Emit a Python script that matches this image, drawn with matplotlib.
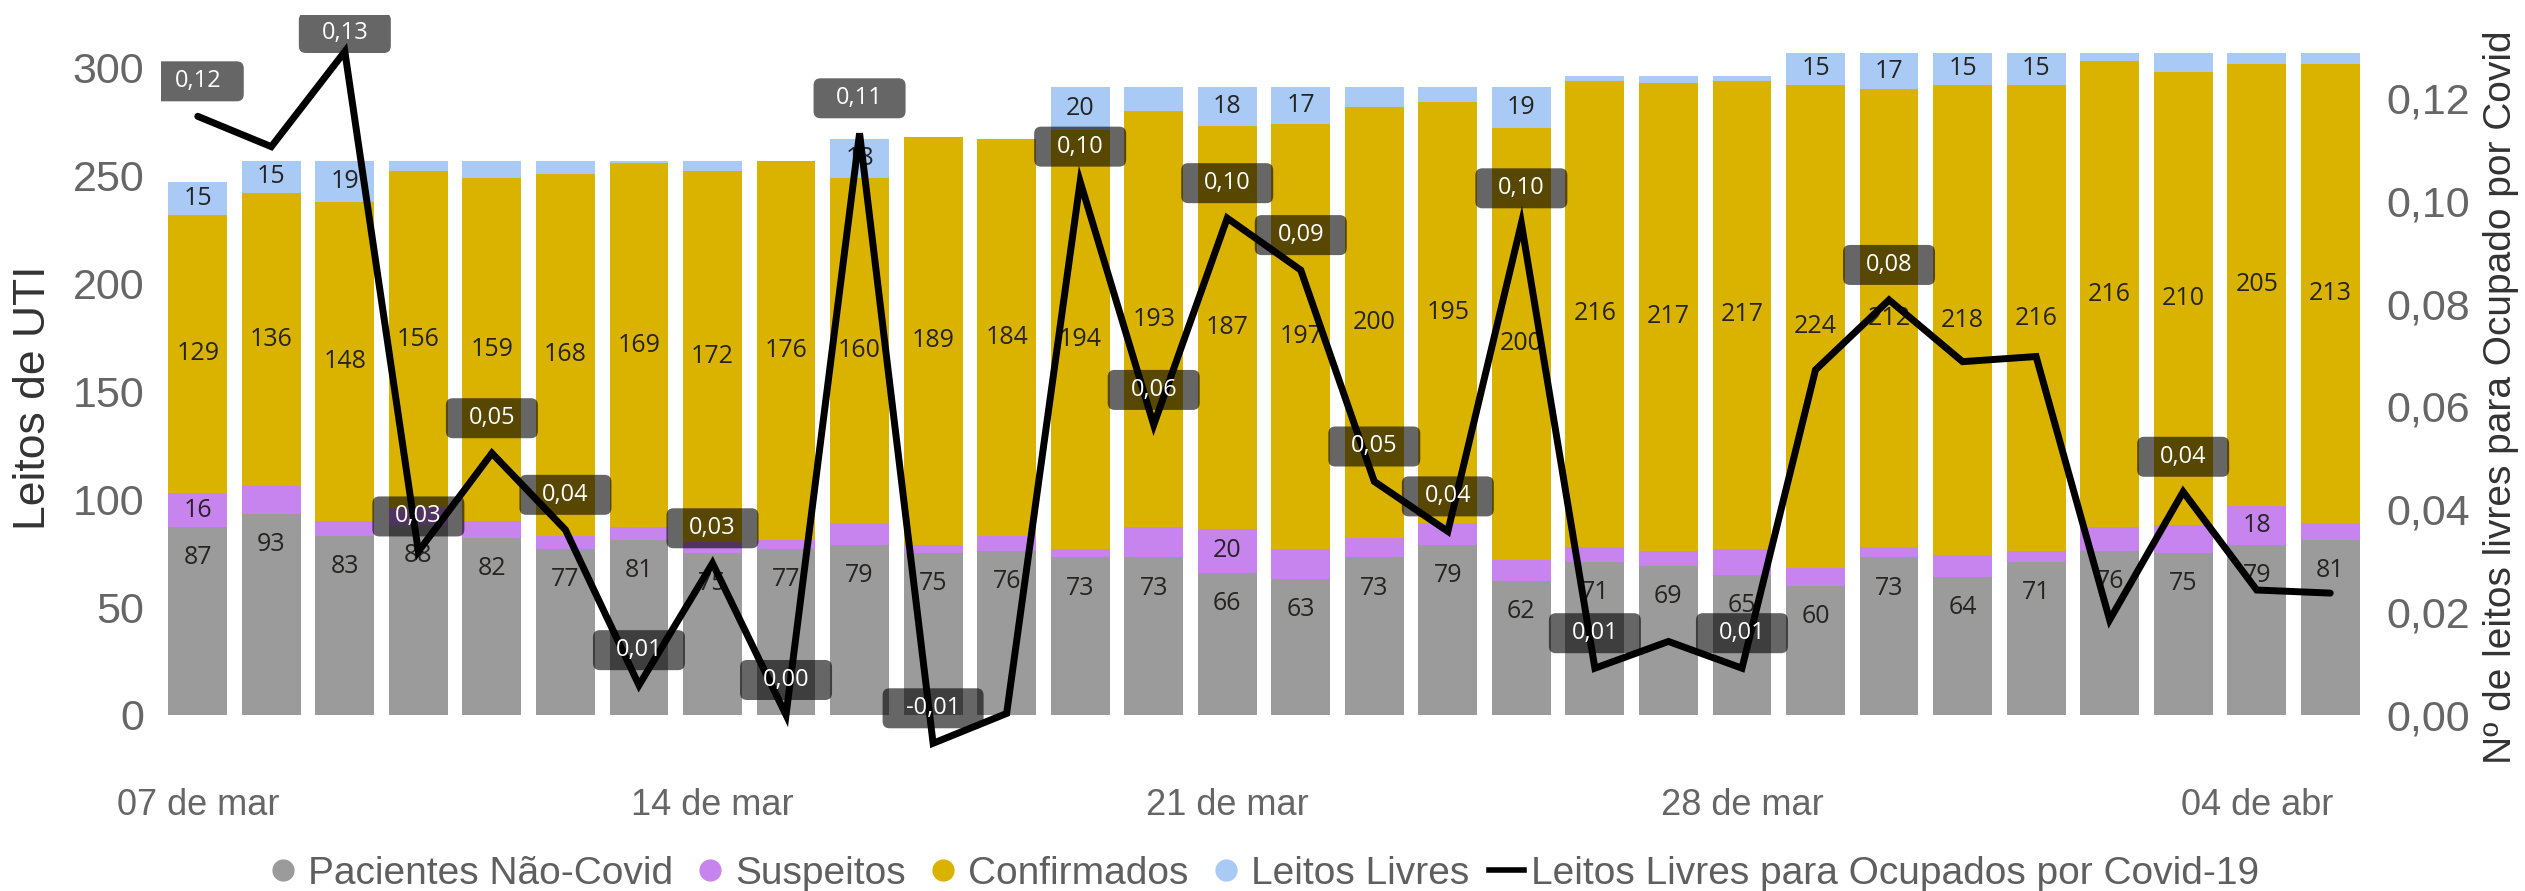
import matplotlib
matplotlib.use("Agg")
import matplotlib.pyplot as plt
import matplotlib.transforms as mtransforms
from matplotlib.patches import FancyBboxPatch
from matplotlib.lines import Line2D
import numpy as np

# dados (07 de mar a 05 de abr)
dias = ["07 de mar", "08 de mar", "09 de mar", "10 de mar", "11 de mar", "12 de mar",
        "13 de mar", "14 de mar", "15 de mar", "16 de mar", "17 de mar", "18 de mar",
        "19 de mar", "20 de mar", "21 de mar", "22 de mar", "23 de mar", "24 de mar",
        "25 de mar", "26 de mar", "27 de mar", "28 de mar", "29 de mar", "30 de mar",
        "31 de mar", "01 de abr", "02 de abr", "03 de abr", "04 de abr", "05 de abr"]
nao_covid = [87, 93, 83, 88, 82, 77, 81, 75, 77, 79, 75, 76, 73, 73, 66, 63, 73, 79,
             62, 71, 69, 65, 60, 73, 64, 71, 76, 75, 79, 81]
suspeitos = [16, 13, 7, 8, 8, 6, 6, 5, 4, 10, 4, 7, 4, 14, 20, 14, 9, 10,
             10, 7, 7, 12, 8, 5, 10, 5, 11, 13, 18, 8]
confirmados = [129, 136, 148, 156, 159, 168, 169, 172, 176, 160, 189, 184, 194, 193,
               187, 197, 200, 195, 200, 216, 217, 217, 224, 212, 218, 216, 216, 210,
               205, 213]
livres = [15, 15, 19, 5, 8, 6, 1, 5, 0, 18, 0, 0, 20, 11, 18, 17, 9, 7, 19, 2, 3, 2,
          15, 17, 15, 15, 4, 9, 5, 5]
razao = [0.1164, 0.1105, 0.1290, 0.0318, 0.0509, 0.0360, 0.0058, 0.0295, 0.0000,
         0.1131, -0.0055, 0.0003, 0.1037, 0.0564, 0.0966, 0.0865, 0.0454, 0.0357,
         0.0956, 0.0091, 0.0143, 0.0091, 0.0671, 0.0807, 0.0687, 0.0697, 0.0185,
         0.0434, 0.0243, 0.0237]
razao_rotulo = [1, 0, 1, 1, 1, 1, 1, 1, 1, 1, 1, 0, 1, 1, 1, 1, 1, 1, 1, 1, 0, 1, 0, 1,
                0, 0, 0, 1, 0, 0]
ticks_idx = [0, 7, 14, 21, 28]

c_cinza = "#9B9B9B"
c_roxo = "#C884EE"
c_amarelo = "#D9B300"
c_azul = "#A8CAF5"
c_tick = "#666666"
c_txt = "#252423"

sans = ["Liberation Sans", "DejaVu Sans"]
rot = ["Open Sans", "DejaVu Sans"]
plt.rcParams["font.family"] = sans

DPI = 100
fig = plt.figure(figsize=(25.25, 8.91), dpi=DPI)
ax = fig.add_axes([161 / 2525, 1 - 760 / 891, (2367 - 161) / 2525, 745 / 891])
ax2 = ax.twinx()

x = np.arange(len(dias))
nc = np.array(nao_covid)
su = np.array(suspeitos)
co = np.array(confirmados)
li = np.array(livres)
w = 0.8

ax.bar(x, nc, w, color=c_cinza, zorder=1)
ax.bar(x, su, w, bottom=nc, color=c_roxo, zorder=1)
ax.bar(x, co, w, bottom=nc + su, color=c_amarelo, zorder=1)
ax.bar(x, li, w, bottom=nc + su + co, color=c_azul, zorder=1)

lab_kw = dict(ha="center", va="center", fontsize=18, color=c_txt, family=rot, zorder=2)
for i in x:
    ax.annotate(str(nc[i]), (i, nc[i]), xytext=(0, -22), textcoords="offset points", **lab_kw)
    ax.text(i, nc[i] + su[i] + co[i] / 2, str(co[i]), **lab_kw)
    if su[i] >= 15:
        ax.text(i, nc[i] + su[i] / 2, str(su[i]), **lab_kw)
    if li[i] >= 15:
        ax.text(i, nc[i] + su[i] + co[i] + li[i] / 2, str(li[i]), **lab_kw)

ax.set_ylim(-20.9, 324.5)
ax.set_xlim(-0.5, len(dias) - 0.5)
ax.set_yticks([0, 50, 100, 150, 200, 250, 300])
ax.set_xticks(ticks_idx)
ax.set_xticklabels([dias[i] for i in ticks_idx])
ax.tick_params(axis="y", length=0, labelsize=31, labelcolor=c_tick, pad=12)
ax.tick_params(axis="x", length=0, labelsize=26, labelcolor=c_tick, pad=20)

r = np.array(razao)
ax2.plot(x, r, color="black", lw=5, solid_joinstyle="miter", solid_capstyle="round", zorder=3)
ax2.set_ylim(-0.00875, 0.1361)
ax2.set_yticks([0, 0.02, 0.04, 0.06, 0.08, 0.10, 0.12])
ax2.set_yticklabels([f"{v:.2f}".replace(".", ",") for v in ax2.get_yticks()])
ax2.tick_params(axis="y", length=0, labelsize=31, labelcolor=c_tick, pad=14)

# rotulos da linha: caixa escura semitransparente acima do ponto
fig_h = fig.get_size_inches()[1] * DPI
for i in x:
    if not razao_rotulo[i]:
        continue
    s = f"{razao[i]:.2f}".replace(".", ",")
    bw = 0.92 if len(s) <= 4 else 1.01
    py = ax2.transData.transform((i, r[i]))[1]
    off = 0.15
    topo = py + (off + 0.40) * DPI
    if topo > fig_h - 13:
        off -= (topo - (fig_h - 13)) / DPI
    tr = fig.dpi_scale_trans + mtransforms.ScaledTranslation(i, r[i], ax2.transData)
    box = FancyBboxPatch((-bw / 2, off), bw, 0.40, boxstyle="round,pad=0,rounding_size=0.07",
                         transform=tr, fc="black", ec="none", alpha=0.6, zorder=4)
    ax2.add_patch(box)
    ax2.annotate(s, (i, r[i]), xytext=(0, (off + 0.20) * 72), textcoords="offset points",
                 ha="center", va="center", color="white", fontsize=17, family=rot, zorder=5)

for a in (ax, ax2):
    for sp in a.spines.values():
        sp.set_visible(False)

fig.text(34 / 2525, 1 - 398 / 891, "Leitos de UTI", rotation=90, ha="center", va="center",
         fontsize=32, color="#333333")
fig.text(2501 / 2525, 1 - 397 / 891, "Nº de leitos livres para Ocupado por Covid", rotation=90,
         ha="center", va="center", fontsize=28, color="#333333")

handles = [Line2D([], [], ls="none", marker="o", ms=15, color=c) for c in (c_cinza, c_roxo, c_amarelo, c_azul)]
handles.append(Line2D([], [], color="black", lw=4))
nomes = ["Pacientes Não-Covid", "Suspeitos", "Confirmados", "Leitos Livres",
         "Leitos Livres para Ocupados por Covid-19"]
fig.legend(handles, nomes, loc="center", bbox_to_anchor=(0.5, 1 - 874 / 891), ncol=5,
           frameon=False, fontsize=28, labelcolor="#5f5f5f", handlelength=0.9,
           handletextpad=0.2, columnspacing=0.5, borderpad=0)

fig.savefig("out.png", dpi=DPI)
